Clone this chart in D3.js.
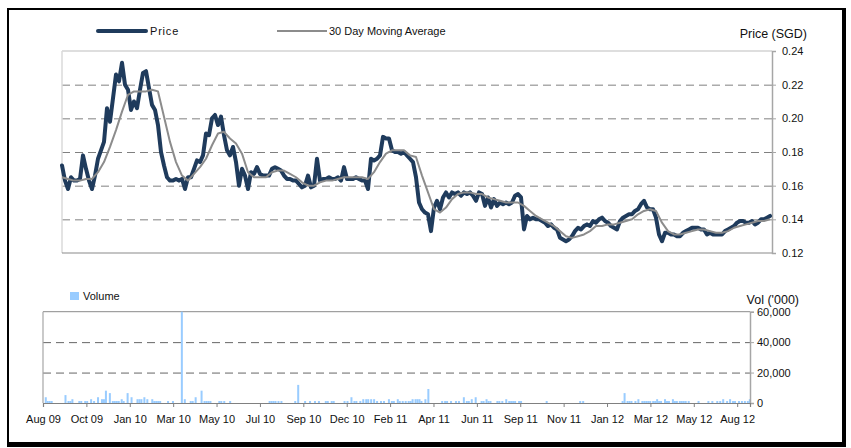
<!DOCTYPE html>
<html>
<head>
<meta charset="utf-8">
<script src="https://cdn.jsdelivr.net/npm/d3@7"></script>
<style>
  body { margin: 0; background: #fff; }
  svg { display: block; font-family: "Liberation Sans", Arial, sans-serif; }
</style>
</head>
<body>
<svg id="chart" width="851" height="448"></svg>
<script>
// daily closing price (SGD), one reading every 3 trading days
let price = [
  0.172,0.163,0.158,0.165,0.163,0.163,0.164,0.178,0.170,0.163,
  0.158,0.166,0.176,0.181,0.186,0.206,0.198,0.212,0.226,0.222,
  0.233,0.220,0.217,0.205,0.210,0.206,0.217,0.227,0.228,0.218,
  0.208,0.205,0.196,0.180,0.172,0.165,0.163,0.163,0.164,0.163,
  0.164,0.158,0.165,0.165,0.170,0.175,0.174,0.178,0.191,0.190,
  0.200,0.202,0.196,0.201,0.190,0.181,0.178,0.183,0.174,0.160,
  0.170,0.166,0.158,0.168,0.167,0.171,0.167,0.166,0.166,0.166,
  0.170,0.171,0.170,0.169,0.166,0.164,0.164,0.163,0.163,0.161,
  0.159,0.160,0.166,0.159,0.160,0.176,0.163,0.164,0.164,0.165,
  0.164,0.164,0.165,0.163,0.171,0.164,0.164,0.164,0.165,0.164,
  0.163,0.163,0.158,0.176,0.175,0.176,0.178,0.189,0.188,0.188,
  0.181,0.180,0.180,0.179,0.180,0.178,0.176,0.174,0.165,
  0.150,0.146,0.144,0.143,0.133,0.147,0.151,0.146,0.153,0.156,
  0.153,0.156,0.155,0.156,0.154,0.156,0.155,0.156,0.154,0.151,
  0.156,0.155,0.148,0.153,0.147,0.152,0.148,0.150,0.149,0.150,
  0.149,0.150,0.154,0.155,0.153,0.134,0.142,0.140,0.141,0.140,
  0.140,0.139,0.138,0.136,0.137,0.135,0.134,0.129,0.128,0.127,
  0.128,0.130,0.133,0.135,0.134,0.136,0.137,0.136,0.139,
  0.138,0.140,0.141,0.139,0.138,0.136,0.135,0.134,0.139,0.141,
  0.142,0.143,0.143,0.145,0.146,0.149,0.151,0.147,0.146,0.146,
  0.141,0.131,0.127,0.132,0.132,0.131,0.131,0.130,0.130,0.132,
  0.133,0.134,0.135,0.135,0.135,0.134,0.134,0.131,0.132,0.131,
  0.131,0.131,0.131,0.133,0.134,0.135,0.136,0.138,0.139,0.139,
  0.138,0.138,0.139,0.137,0.138,0.140,0.140,0.141,0.142
];

// 30 day moving average, one reading every 6 trading days
let movingAvg = [
  0.165,0.164,0.163,0.163,0.164,0.164,0.168,0.174,0.183,0.193,
  0.204,0.214,0.216,0.216,0.216,0.217,0.216,0.201,0.186,0.174,
  0.166,0.163,0.167,0.171,0.176,0.184,0.191,0.192,0.188,0.185,
  0.179,0.168,0.165,0.165,0.165,0.168,0.169,0.169,0.167,0.165,
  0.162,0.160,0.160,0.162,0.163,0.163,0.164,0.165,0.165,0.165,
  0.165,0.164,0.168,0.174,0.179,0.181,0.181,0.181,0.178,0.177,
  0.166,0.156,0.146,0.144,0.147,0.152,0.155,0.156,0.156,0.155,
  0.155,0.153,0.152,0.151,0.150,0.150,0.150,0.148,0.145,0.142,
  0.140,0.138,0.136,0.133,0.130,0.129,0.130,0.131,0.133,
  0.136,0.136,0.137,0.137,0.138,0.139,0.140,0.143,0.145,0.146,
  0.145,0.138,0.133,0.131,0.131,0.132,0.133,0.134,0.134,0.133,
  0.132,0.132,0.133,0.135,0.136,0.137,0.138,0.139,0.139,0.140
];

// volume ('000) on the trading days that had trades
let volDay = [
  2,4,6,8, 22,25,27,29, 36,38,42,44, 48,51,55,59, 61,63,67,70,
  72,74,76,79, 81,85,89,95, 97,99,102,105, 110,112,114,116, 118,126,131,140,
  143,149,151,154, 160,163,165,167, 169,178,180,183, 189,229,231,233, 235,238,241,255,
  258,265,270,275, 279,286,288,292, 294,305,308,312, 315,317,321,324, 327,329,332,335,
  338,342,345,350, 353,355,359,361, 364,367,370,372, 374,377,379,381, 383,387,390,404,
  407,409,413,418, 421,426,429,431, 434,438,444,446, 449,451,453,460, 462,465,469,472,
  474,476,478,482, 484,510,544,547, 587,589,592,594, 596,600,603,607, 609,611,613,615,
  618,620,622,624, 626,630,632,634, 638,640,642,645, 647,649,651,654, 664,674,678,683,
  686,689,693,696, 699,701,705,708, 711,714,716
];
let volume = [
  3800,1300,1300,1300, 5200,1300,1300,2500, 1300,1300,1300,1300, 2500,1300,3800,2500, 2500,8100,6500,1300,
  1300,1300,1300,2500, 1300,6500,3800,2500, 2500,2500,3800,2500, 2500,1300,1300,1300, 1300,1300,1300,60000,
  2500,1300,1300,3800, 8100,1300,1300,1300, 1300,1300,1300,1300, 1300,1300,1300,1300, 1300,1300,1300,1300,
  11900,1300,1300,1300, 1300,1300,1300,1300, 1300,1300,1300,3800, 1300,1300,1300,2500, 2500,2500,2500,2500,
  1300,1300,1300,2500, 1300,1300,2500,1300, 1300,1300,1300,1300, 2500,2500,2500,2500, 1300,2500,9200,1300,
  1300,1300,1300,1300, 1300,3800,1300,1300, 2500,3800,1300,1300, 2500,1300,1300,1300, 1300,1300,2500,1300,
  1300,1300,1300,1300, 1300,1300,1300,1300, 1300,6500,1300,1300, 1300,1300,2500,1300, 1300,1300,1300,1300,
  1300,1300,2500,1300, 1300,2500,1300,1300, 2500,1300,1300,1300, 1300,1300,1300,1300, 1300,1300,1300,1300,
  1300,2500,1300,2500, 1300,1300,1300,1300, 1300,1300,2500
];

let xLabels = ['Aug 09','Oct 09','Jan 10','Mar 10','May 10','Jul 10','Sep 10','Dec 10','Feb 11',
  'Apr 11','Jun 11','Sep 11','Nov 11','Jan 12','Mar 12','May 12','Aug 12'];
let priceTicks = [0.12, 0.14, 0.16, 0.18, 0.20, 0.22, 0.24];
let volTicks = [0, 20000, 40000, 60000];
let totalDays = 717;
let labelEvery = 44;

let svg = d3.select('#chart');

// frame with a heavier bottom/right edge
svg.append('rect').attr('x', 7).attr('y', 8).attr('width', 839).attr('height', 439).attr('fill', '#000');
svg.append('rect').attr('x', 9).attr('y', 10).attr('width', 833).attr('height', 432).attr('fill', '#fff');

// ---------- price panel ----------
let px = d3.scaleLinear().domain([0, price.length - 1]).range([62, 770]);
let py = d3.scaleLinear().domain([0.12, 0.24]).range([253, 51]);

let grid = svg.append('g').attr('transform', 'translate(62,0)')
  .call(d3.axisLeft(py).tickValues(priceTicks.slice(1, -1)).tickSize(-710).tickFormat(''));
grid.select('.domain').remove();
grid.selectAll('line').attr('stroke', '#808080').attr('stroke-dasharray', '8,5');

svg.append('line').attr('x1', 62).attr('x2', 772).attr('y1', py(0.24)).attr('y2', py(0.24)).attr('stroke', '#bdbdbd');
svg.append('line').attr('x1', 62).attr('x2', 62).attr('y1', 51).attr('y2', 253).attr('stroke', '#dadada').attr('stroke-width', 1.5);
svg.append('line').attr('x1', 62).attr('x2', 772).attr('y1', py(0.12)).attr('y2', py(0.12)).attr('stroke', '#8a8a8a').attr('stroke-width', 1.2);

let pAxis = svg.append('g').attr('transform', 'translate(772,0)')
  .call(d3.axisRight(py).tickValues(priceTicks).tickSize(4).tickPadding(6).tickFormat(d3.format('.2f')));
pAxis.select('.domain').attr('stroke', '#a6a6a6').attr('stroke-width', 1.5);
pAxis.selectAll('line').attr('stroke', '#a6a6a6');
pAxis.selectAll('text').attr('font-size', 11).attr('fill', '#111').attr('font-family', '"Liberation Sans", Arial, sans-serif');

svg.append('path')
  .datum(price)
  .attr('fill', 'none')
  .attr('stroke', '#1f3b5c')
  .attr('stroke-width', 4)
  .attr('stroke-linejoin', 'round')
  .attr('stroke-linecap', 'round')
  .attr('d', d3.line().x((d, i) => px(i)).y(d => py(d)));

svg.append('path')
  .datum(movingAvg)
  .attr('fill', 'none')
  .attr('stroke', '#8c8c8c')
  .attr('stroke-width', 2)
  .attr('stroke-linejoin', 'round')
  .attr('d', d3.line().x((d, i) => px(i * 2)).y(d => py(d)));

svg.append('text').attr('x', 807).attr('y', 38).attr('text-anchor', 'end')
  .attr('font-size', 12.5).attr('fill', '#111').text('Price (SGD)');

// legend
svg.append('line').attr('x1', 98).attr('x2', 146).attr('y1', 31).attr('y2', 31)
  .attr('stroke', '#1f3b5c').attr('stroke-width', 4).attr('stroke-linecap', 'round');
svg.append('text').attr('x', 150).attr('y', 35).attr('font-size', 11).attr('letter-spacing', 0.8)
  .attr('fill', '#111').text('Price');
svg.append('line').attr('x1', 277).attr('x2', 327).attr('y1', 31).attr('y2', 31)
  .attr('stroke', '#8c8c8c').attr('stroke-width', 2);
svg.append('text').attr('x', 329).attr('y', 35).attr('font-size', 11)
  .attr('fill', '#111').text('30 Day Moving Average');

// ---------- volume panel ----------
let vx = d3.scaleLinear().domain([0, totalDays]).range([43, 750]);
let vy = d3.scaleLinear().domain([0, 60000]).range([403, 311.7]);

let vgrid = svg.append('g').attr('transform', 'translate(43,0)')
  .call(d3.axisLeft(vy).tickValues([20000, 40000]).tickSize(-707).tickFormat(''));
vgrid.select('.domain').remove();
vgrid.selectAll('line').attr('stroke', '#666').attr('stroke-dasharray', '8,5');

svg.append('line').attr('x1', 43).attr('x2', 750).attr('y1', vy(60000)).attr('y2', vy(60000)).attr('stroke', '#8a8a8a');
svg.append('line').attr('x1', 43).attr('x2', 43).attr('y1', vy(60000)).attr('y2', 403).attr('stroke', '#a6a6a6').attr('stroke-width', 1.2);

svg.append('g').selectAll('rect')
  .data(volume)
  .enter()
  .append('rect')
  .attr('x', (d, i) => vx(volDay[i]) - 0.2)
  .attr('width', 2)
  .attr('y', d => vy(d))
  .attr('height', d => vy(0) - vy(d))
  .attr('fill', '#99ccff');

let vAxis = svg.append('g').attr('transform', 'translate(750,0)')
  .call(d3.axisRight(vy).tickValues(volTicks).tickSize(4).tickPadding(3).tickFormat(d3.format(',')));
vAxis.select('.domain').attr('stroke', '#a6a6a6').attr('stroke-width', 1.5);
vAxis.selectAll('line').attr('stroke', '#a6a6a6');
vAxis.selectAll('text').attr('font-size', 11).attr('fill', '#111').attr('font-family', '"Liberation Sans", Arial, sans-serif');

let xAxis = svg.append('g').attr('transform', 'translate(0,403)')
  .call(d3.axisBottom(vx).tickValues(d3.range(0, labelEvery * xLabels.length, labelEvery))
    .tickSize(4).tickPadding(8).tickFormat((d, i) => xLabels[i]));
xAxis.select('.domain').attr('stroke', '#808080').attr('stroke-width', 1.2);
xAxis.selectAll('line').attr('stroke', '#808080');
xAxis.selectAll('text').attr('font-size', 11).attr('fill', '#111').attr('font-family', '"Liberation Sans", Arial, sans-serif');

svg.append('text').attr('x', 799).attr('y', 304).attr('text-anchor', 'end')
  .attr('font-size', 12.5).attr('fill', '#111').text("Vol ('000)");

svg.append('rect').attr('x', 70).attr('y', 292).attr('width', 9).attr('height', 8).attr('fill', '#99ccff');
svg.append('text').attr('x', 83).attr('y', 300).attr('font-size', 11).attr('fill', '#111').text('Volume');
</script>
</body>
</html>
